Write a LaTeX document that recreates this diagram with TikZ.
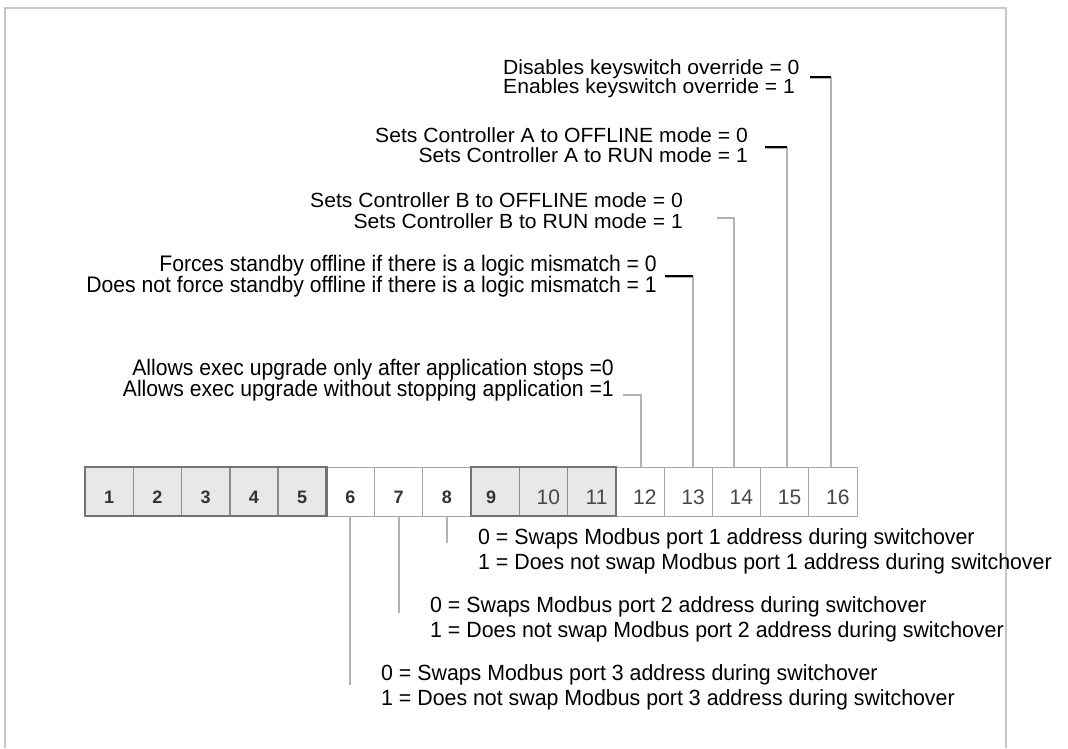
\documentclass[tikz,border=0pt]{standalone}
\usepackage{fontspec}
\setmainfont{Liberation Sans}
\newfontfamily\upf[FakeStretch=1.03]{Liberation Sans}
\newfontfamily\narf[FakeStretch=0.94]{Liberation Sans}
\newfontfamily\lowf[FakeStretch=0.97]{Liberation Sans}
\begin{document}
\begin{tikzpicture}[x=1pt,y=-1pt,
 frame/.style={draw=black!22, line width=2.5pt},
 cellw/.style={draw=black!35, line width=1pt, fill=white, minimum width=48.25pt, minimum height=49pt, inner sep=0pt, outer sep=0pt},
 cellg/.style={cellw, fill=black!9, draw=black!45, line width=1.5pt},
 grp/.style={draw=black!55, line width=2.5pt},
 numb/.style={font=\bfseries\fontsize{18}{18}\selectfont, text=black!80, inner sep=0pt},
 numr/.style={font=\fontsize{21}{21}\selectfont, text=black!72, inner sep=0pt},
 up/.style={font=\upf\fontsize{20.5}{21}\selectfont, inner sep=0pt},
 nar/.style={font=\narf\fontsize{22.5}{23}\selectfont, inner sep=0pt},
 low/.style={font=\lowf\fontsize{22}{23}\selectfont, inner sep=0pt},
 conn/.style={draw=black!30, line width=1.8pt},
 bar/.style={draw=black, line width=2.5pt}]
\useasboundingbox (0,0) rectangle (1068,748);
\fill[white] (0,0) rectangle (1068,748);
% frame
\draw[frame] (5,748) -- (5,8) -- (1006,8) -- (1006,748);
% cells
\foreach \i in {1,...,16} \node[cellw] (c\i) at ({85+(\i-0.5)*48.25}, 491.5) {};
\foreach \i in {1,...,5,9,10,11} \node[cellg] at (c\i) {};
\draw[grp] (c1.north west) rectangle (c5.south east);
\draw[grp] (c9.north west) rectangle (c11.south east);
% numbers
\foreach \i in {1,...,8} \node[numb, yshift=-5.5pt] (n\i) at (c\i) {\i};
\node[numb, yshift=-5.5pt, xshift=-4pt] (n9) at (c9) {9};
\foreach \i in {10,...,16} \node[numr, yshift=-6pt, xshift=5pt] (n\i) at (c\i) {\i};
% upper labels
\node[up, anchor=base west] (d0) at (503,74) {Disables keyswitch override = 0};
\node[up, anchor=base west] (d1) at (503,93.3) {Enables keyswitch override = 1};
\node[up, anchor=base east] (a0) at (748,142.3) {Sets Controller A to OFFLINE mode = 0};
\node[up, anchor=base east] (a1) at (748,162.3) {Sets Controller A to RUN mode = 1};
\node[up, anchor=base east] (b0) at (683,207.3) {Sets Controller B to OFFLINE mode = 0};
\node[up, anchor=base east] (b1) at (683,228.3) {Sets Controller B to RUN mode = 1};
\node[nar, anchor=base east] (f0) at (657,271.8) {Forces standby offline if there is a logic mismatch = 0};
\node[nar, anchor=base east] (f1) at (657,292.8) {Does not force standby offline if there is a logic mismatch = 1};
\node[nar, anchor=base east] (e0) at (614,375.8) {Allows exec upgrade only after application stops =0};
\node[nar, anchor=base east] (e1) at (614,396.8) {Allows exec upgrade without stopping application =1};
% lower labels
\node[low, anchor=base west] (p10) at (478,544) {0 = Swaps Modbus port 1 address during switchover};
\node[low, anchor=base west] (p11) at (478,569) {1 = Does not swap Modbus port 1 address during switchover};
\node[low, anchor=base west] (p20) at (430,612) {0 = Swaps Modbus port 2 address during switchover};
\node[low, anchor=base west] (p21) at (430,637) {1 = Does not swap Modbus port 2 address during switchover};
\node[low, anchor=base west] (p30) at (381,680) {0 = Swaps Modbus port 3 address during switchover};
\node[low, anchor=base west] (p31) at (381,705) {1 = Does not swap Modbus port 3 address during switchover};
% upper connectors
\coordinate (s16) at (810,77); \coordinate (k16) at (831,77);
\coordinate (s15) at (765,147); \coordinate (k15) at (787,147);
\coordinate (s14) at (717,218); \coordinate (k14) at (734,218);
\coordinate (s13) at (665,276); \coordinate (k13) at (693,276);
\coordinate (s12) at (623,395); \coordinate (k12) at (641,395);
\draw[conn] ([yshift=-1pt]s16) -- ([yshift=-1pt]k16) -- (k16 |- c16.north);
\draw[bar] (s16) -- (k16);
\draw[conn] ([yshift=-1pt]s15) -- ([yshift=-1pt]k15) -- (k15 |- c15.north);
\draw[bar] (s15) -- (k15);
\draw[conn] (s14) -- (k14) -- (k14 |- c14.north);
\draw[conn] ([yshift=-1pt]s13) -- ([yshift=-1pt]k13) -- (k13 |- c13.north);
\draw[bar] (s13) -- (k13);
\draw[conn] (s12) -- (k12) -- (k12 |- c12.north);
% lower connectors
\coordinate (q8) at (c8.center |- 0,543);
\coordinate (q7) at (c7.center |- 0,613);
\coordinate (q6) at (c6.center |- 0,685);
\draw[conn] (c8.south) -- (q8);
\draw[conn] (c7.south) -- (q7);
\draw[conn] (c6.south) -- (q6);
\end{tikzpicture}
\end{document}
